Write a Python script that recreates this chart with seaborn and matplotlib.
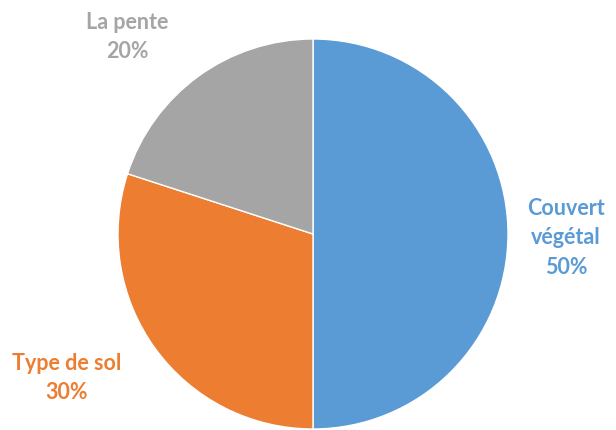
import matplotlib
matplotlib.use("Agg")
import matplotlib.pyplot as plt
import seaborn as sns

categories = ["Couvert\nvégétal", "Type de sol", "La pente"]
shares = [50, 30, 20]
colors = ["#5B9BD5", "#ED7D31", "#A5A5A5"]

sns.set_theme(style="white")
plt.rcParams["font.family"] = ["Lato", "DejaVu Sans"]

fig = plt.figure(figsize=(6.16, 4.30), dpi=100)
cx, cy, r = 313, 234, 195
W, H = 616, 430
ax = fig.add_axes([(cx - r) / W, (H - cy - r) / H, 2 * r / W, 2 * r / H])

wedges, _ = ax.pie(shares, colors=colors, startangle=90, counterclock=False,
                   radius=1, wedgeprops=dict(edgecolor="white", linewidth=1))
ax.set_xlim(-1, 1)
ax.set_ylim(-1, 1)
ax.set_aspect("equal")
ax.axis("off")

def to_data(px, py):
    return (px - cx) / r, (cy - py) / r

label_pos = [(566, 238), (67, 378), (127, 37)]
for name, val, col, (px, py) in zip(categories, shares, colors, label_pos):
    x, y = to_data(px, py)
    ax.text(x, y, f"{name}\n{val}%", color=col, ha="center", va="center",
            fontsize=15.5, fontweight="bold", linespacing=1.5, clip_on=False)

fig.savefig("out.png", dpi=100)
